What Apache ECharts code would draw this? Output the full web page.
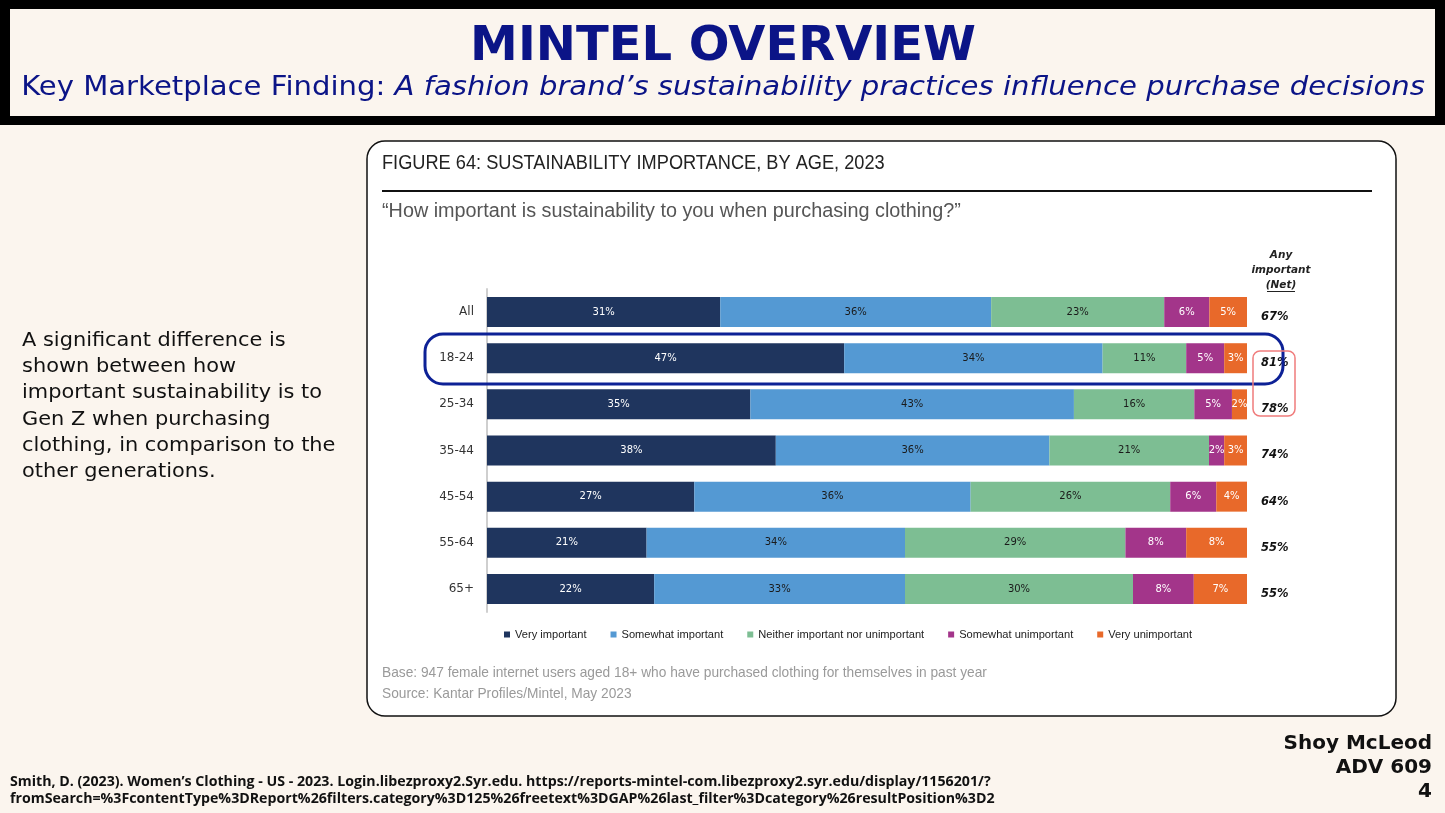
<!DOCTYPE html>
<html>
<head>
<meta charset="utf-8">
<script src="https://cdn.jsdelivr.net/npm/echarts@6/dist/echarts.min.js"></script>
<style>
html,body{margin:0;padding:0;background:#FBF5EE;}
#c{width:1445px;height:813px;}
</style>
</head>
<body>
<div id="c"></div>
<script>
const categories = ['All', '18-24', '25-34', '35-44', '45-54', '55-64', '65+'];
const seriesNames = ['Very important', 'Somewhat important', 'Neither important nor unimportant', 'Somewhat unimportant', 'Very unimportant'];
const veryImportant = [31, 47, 35, 38, 27, 21, 22];
const somewhatImportant = [36, 34, 43, 36, 36, 34, 33];
const neitherImportant = [23, 11, 16, 21, 26, 29, 30];
const somewhatUnimportant = [6, 5, 5, 2, 6, 8, 8];
const veryUnimportant = [5, 3, 2, 3, 4, 8, 7];
const netImportant = [67, 81, 78, 74, 64, 55, 55];

const colors = ['#1F355E', '#5499D3', '#7DBE93', '#A3358A', '#E8692A'];
const labelColors = ['#ffffff', '#1a1a1a', '#1a1a1a', '#ffffff', '#ffffff'];
const allSeries = [veryImportant, somewhatImportant, neitherImportant, somewhatUnimportant, veryUnimportant];
const rowTotals = categories.map((_, i) => allSeries.reduce((s, arr) => s + arr[i], 0));

const series = allSeries.map((arr, si) => ({
  name: seriesNames[si],
  type: 'bar',
  stack: 'total',
  barWidth: 30,
  itemStyle: { color: colors[si] },
  label: {
    show: true,
    position: 'inside',
    color: labelColors[si],
    fontSize: 10,
    fontFamily: 'DejaVu Sans',
    formatter: p => p.data.raw + '%'
  },
  data: arr.map((v, i) => ({ value: v / rowTotals[i] * 100, raw: v }))
}));

function txt(x, y, text, font, fill, opts) {
  return Object.assign({
    type: 'text', x: x, y: y,
    style: Object.assign({ text: text, font: font, fill: fill, verticalAlign: 'middle' }, (opts && opts.style) || {})
  }, (opts && opts.el) || {});
}

const chart = echarts.init(document.getElementById('c'));
const option = {
  backgroundColor: '#FBF5EE',
  animation: false,
  grid: { left: 487, right: 198, top: 289, height: 323, containLabel: false },
  legend: {
    data: seriesNames,
    left: 499, top: 624,
    icon: 'rect', itemWidth: 6, itemHeight: 6, itemGap: 24,
    textStyle: { fontSize: 11.1, color: '#222', fontFamily: 'Liberation Sans' }
  },
  xAxis: { type: 'value', min: 0, max: 100, show: false },
  yAxis: [
    {
      type: 'category', data: categories, inverse: true,
      axisLine: { show: true, lineStyle: { color: '#cfcfcf', width: 2 } },
      axisTick: { show: false },
      axisLabel: { fontSize: 12, color: '#333', fontFamily: 'DejaVu Sans', margin: 13 }
    },
    {
      type: 'category', data: netImportant, inverse: true, position: 'right',
      axisLine: { show: false }, axisTick: { show: false },
      axisLabel: {
        formatter: v => v + '%', fontSize: 11.5, fontWeight: 'bold', fontStyle: 'italic',
        color: '#111', fontFamily: 'DejaVu Sans', align: 'left', margin: 14,
        verticalAlign: 'top', lineHeight: 10
      }
    }
  ],
  series: series,
  graphic: [
    { type: 'rect', z: -10, shape: { x: 0, y: 0, width: 1445, height: 125 }, style: { fill: '#000' } },
    { type: 'rect', z: -9, shape: { x: 10, y: 9, width: 1425, height: 107 }, style: { fill: '#FBF5EE' } },
    txt(723, 48, 'MINTEL OVERVIEW', 'bold 48px "DejaVu Sans"', '#0B1487', { style: { align: 'center' } }),
    {
      type: 'text', x: 723, y: 88, scaleX: 1.078,
      style: {
        text: '{a|Key Marketplace Finding: }{b|A fashion brand’s sustainability practices influence purchase decisions}',
        align: 'center', verticalAlign: 'middle',
        rich: {
          a: { fill: '#0B1487', font: '27px "DejaVu Sans"' },
          b: { fill: '#0B1487', font: 'italic 27px "DejaVu Sans"' }
        }
      }
    },
    { type: 'rect', z: -8, shape: { x: 367, y: 141, width: 1029, height: 575, r: 18 }, style: { fill: '#fff', stroke: '#111', lineWidth: 1.5 } },
    txt(382, 163, 'FIGURE 64: SUSTAINABILITY IMPORTANCE, BY AGE, 2023', '20px "Liberation Sans"', '#222', { el: { scaleX: 0.91 } }),
    { type: 'rect', shape: { x: 382, y: 190, width: 990, height: 2 }, style: { fill: '#111' } },
    txt(382, 211, '“How important is sustainability to you when purchasing clothing?”', '20px "Liberation Sans"', '#555', { el: { scaleX: 0.99 } }),
    { type: 'text', x: 1281, y: 248, style: { text: 'Any\nimportant\n(Net)', fill: '#222', font: 'italic bold 10.5px "DejaVu Sans"', align: 'center', lineHeight: 15 } },
    { type: 'rect', shape: { x: 1267, y: 291, width: 28, height: 1 }, style: { fill: '#222' } },
    { type: 'rect', z: 50, shape: { x: 425, y: 334, width: 858, height: 50, r: 18 }, style: { fill: 'none', stroke: '#0D2196', lineWidth: 3 } },
    { type: 'rect', z: 50, shape: { x: 1253, y: 351, width: 42, height: 65, r: 7 }, style: { fill: 'none', stroke: '#F07C7C', lineWidth: 1.5 } },
    txt(382, 673, 'Base: 947 female internet users aged 18+ who have purchased clothing for themselves in past year', '14.5px "Liberation Sans"', '#9a9a9a', { el: { scaleX: 0.947 } }),
    txt(382, 694, 'Source: Kantar Profiles/Mintel, May 2023', '14.5px "Liberation Sans"', '#9a9a9a', { el: { scaleX: 0.947 } }),
    {
      type: 'text', x: 22, y: 328, scaleX: 1.1,
      style: {
        text: 'A significant difference is\nshown between how\nimportant sustainability is to\nGen Z when purchasing\nclothing, in comparison to the\nother generations.',
        fill: '#111', font: '19px "DejaVu Sans"', lineHeight: 26.2
      }
    },
    {
      type: 'text', x: 10, y: 773,
      style: {
        text: 'Smith, D. (2023). Women’s Clothing - US - 2023. Login.libezproxy2.Syr.edu. https://reports-mintel-com.libezproxy2.syr.edu/display/1156201/?\nfromSearch=%3FcontentType%3DReport%26filters.category%3D125%26freetext%3DGAP%26last_filter%3Dcategory%26resultPosition%3D2',
        fill: '#111', font: 'bold 14.2px "Open Sans"', lineHeight: 17
      }
    },
    txt(1432, 744, 'Shoy McLeod', 'bold 20px "DejaVu Sans"', '#111', { style: { align: 'right' } }),
    txt(1432, 768, 'ADV 609', 'bold 20px "DejaVu Sans"', '#111', { style: { align: 'right' } }),
    txt(1432, 792, '4', 'bold 20px "DejaVu Sans"', '#111', { style: { align: 'right' } })
  ]
};
chart.setOption(option);
</script>
</body>
</html>
